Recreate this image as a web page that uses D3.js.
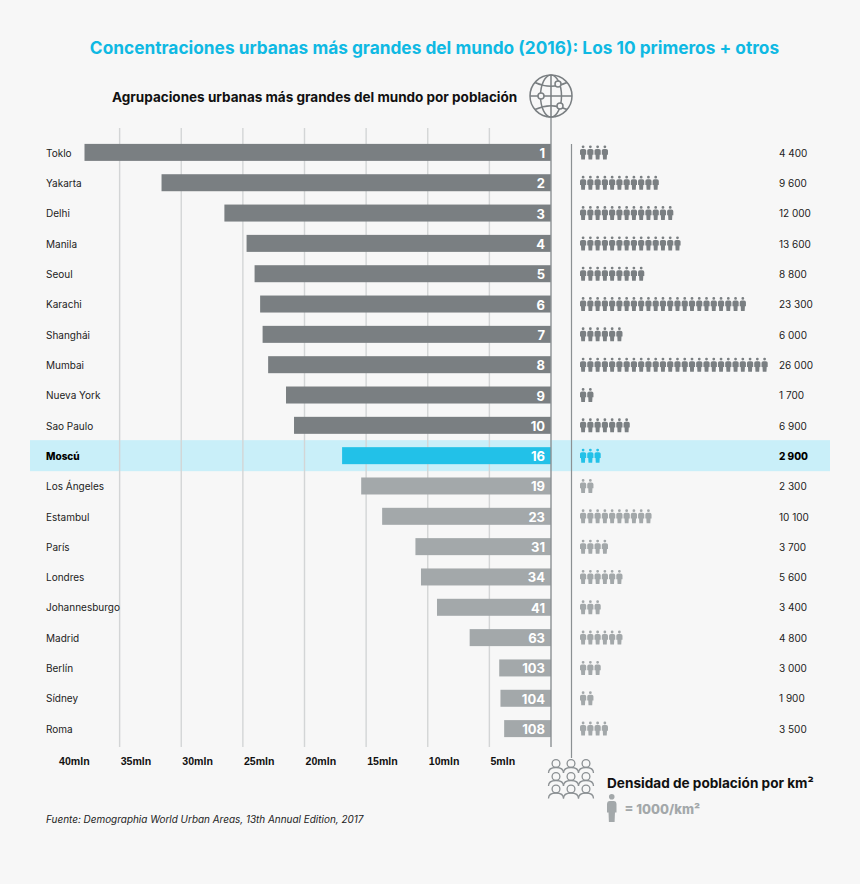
<!DOCTYPE html>
<html>
<head>
<meta charset="utf-8">
<script src="https://cdn.jsdelivr.net/npm/d3@7"></script>
<style>
  html, body { margin: 0; background: #f7f7f7; }
  svg { display: block; font-family: Inter, "Noto Sans", sans-serif; }
</style>
</head>
<body>
<svg id="chart" width="860" height="884"></svg>
<script>
const cities = ["Toklo", "Yakarta", "Delhi", "Manila", "Seoul", "Karachi", "Shanghái", "Mumbai", "Nueva York", "Sao Paulo",
  "Moscú", "Los Ángeles", "Estambul", "París", "Londres", "Johannesburgo", "Madrid", "Berlín", "Sídney", "Roma"];
const population = [37.85, 31.6, 26.5, 24.7, 24.05, 23.6, 23.4, 22.95, 21.5, 20.85,
  16.95, 15.4, 13.7, 11.0, 10.55, 9.25, 6.6, 4.2, 4.1, 3.8];
const ranks = [1, 2, 3, 4, 5, 6, 7, 8, 9, 10, 16, 19, 23, 31, 34, 41, 63, 103, 104, 108];
const density = [4400, 9600, 12000, 13600, 8800, 23300, 6000, 26000, 1700, 6900,
  2900, 2300, 10100, 3700, 5600, 3400, 4800, 3000, 1900, 3500];
const iconCounts = [4, 11, 13, 14, 9, 23, 6, 26, 2, 7, 3, 2, 10, 4, 6, 3, 6, 3, 2, 4];
const xTicks = [40, 35, 30, 25, 20, 15, 10, 5];

const dark = "#7a7f82", light = "#a3a8aa", blue = "#22c1e8", axisGrey = "#8b9093";
const highlight = "Moscú";

const rows = cities.map((c, i) => ({ city: c, pop: population[i], rank: ranks[i], dens: density[i], n: iconCounts[i], i }));
const colorOf = d => d.city === highlight ? blue : d.i < 10 ? dark : light;

const svg = d3.select("#chart");
const x = d3.scaleLinear().domain([0, 40]).range([551, 58]);
const y = d3.scalePoint().domain(cities).range([152.4, 728.6]);
const iconX = d3.scaleLinear().domain([0, 25]).range([580, 761.5]);
const fmt = d3.formatLocale({ decimal: ",", thousands: " ", grouping: [3], currency: ["", ""] }).format(",");

// titulos
svg.append("text").attr("x", 434.5).attr("y", 54).attr("text-anchor", "middle")
  .attr("font-size", 17.3).attr("font-weight", 700).attr("fill", "#0fb9e3")
  .text("Concentraciones urbanas más grandes del mundo (2016): Los 10 primeros + otros");
svg.append("text").attr("x", 112).attr("y", 102)
  .attr("font-size", 13.53).attr("font-weight", 700).attr("fill", "#111")
  .text("Agrupaciones urbanas más grandes del mundo por población");

// banda resaltada
svg.append("rect").attr("x", 30).attr("width", 800)
  .attr("y", y(highlight) - 15.5).attr("height", 31).attr("fill", "#c9eff9");

// rejilla
svg.append("g").selectAll("line").data(xTicks.filter(t => t < 40)).join("line")
  .attr("x1", d => x(d)).attr("x2", d => x(d))
  .attr("y1", 128).attr("y2", 747)
  .attr("stroke", "#d3d5d6").attr("stroke-width", 1.4);

// eje inferior
const axis = svg.append("g").attr("transform", "translate(0,752)")
  .call(d3.axisBottom(x).tickValues(xTicks).tickSize(0).tickFormat(d => d + "mln"));
axis.select(".domain").remove();
axis.selectAll("text").attr("text-anchor", "start").attr("dx", 0.5).attr("dy", "0.95em")
  .attr("font-family", "inherit").attr("font-size", 10.6).attr("font-weight", 800).attr("fill", "#111");

// barras
const row = svg.append("g").selectAll("g").data(rows).join("g");
row.append("rect")
  .attr("x", d => x(d.pop)).attr("width", d => x(0) - x(d.pop))
  .attr("y", d => y(d.city) - 8.5).attr("height", 17)
  .attr("fill", colorOf);
row.append("text")
  .attr("x", 545).attr("y", d => y(d.city) + 5.5).attr("text-anchor", "end")
  .attr("font-size", 13).attr("font-weight", 700).attr("fill", "#fff")
  .text(d => d.rank);
row.append("text")
  .attr("x", 46).attr("y", d => y(d.city) + 4.2)
  .attr("font-size", 10)
  .attr("font-weight", d => d.city === highlight ? 800 : 400)
  .attr("fill", d => d.city === highlight ? "#000" : "#222")
  .text(d => d.city);
row.append("text")
  .attr("x", 779).attr("y", d => y(d.city) + 4.2)
  .attr("font-size", 10).attr("font-weight", d => d.city === highlight ? 800 : 400)
  .attr("fill", d => d.city === highlight ? "#000" : "#222")
  .text(d => fmt(d.dens));

// figura de persona, w = ancho, h = altura
function personPath(w, h) {
  const r = h * 0.1, cx = w / 2, top = h * 0.25, arm = h * 0.66, leg = w * 0.2, p = d3.path();
  p.moveTo(cx + r, r); p.arc(cx, r, r, 0, 2 * Math.PI);
  p.moveTo(w * 0.3, top);
  p.lineTo(w * 0.7, top);
  p.quadraticCurveTo(w, top, w, top + h * 0.12);
  p.lineTo(w, arm);
  p.lineTo(w - leg * 0.8, arm);
  p.lineTo(w - leg, h);
  p.lineTo(leg, h);
  p.lineTo(leg * 0.8, arm);
  p.lineTo(0, arm);
  p.lineTo(0, top + h * 0.12);
  p.quadraticCurveTo(0, top, w * 0.3, top);
  p.closePath();
  return p.toString();
}
const smallPerson = personPath(6.2, 14);
row.selectAll("path").data(d => d3.range(d.n).map(k => ({ k, d }))).join("path")
  .attr("d", smallPerson)
  .attr("transform", e => `translate(${iconX(e.k)},${y(e.d.city) - 7})`)
  .attr("fill", e => colorOf(e.d));

// ejes verticales
svg.append("line").attr("x1", 551).attr("x2", 551).attr("y1", 117).attr("y2", 747)
  .attr("stroke", axisGrey).attr("stroke-width", 1.4);
svg.append("line").attr("x1", 571.5).attr("x2", 571.5).attr("y1", 144).attr("y2", 758)
  .attr("stroke", axisGrey).attr("stroke-width", 1.2);

// globo
const globe = svg.append("g").attr("transform", "translate(551,96)")
  .attr("fill", "none").attr("stroke", dark).attr("stroke-width", 1.5);
globe.append("circle").attr("r", 21);
globe.append("line").attr("y1", -21).attr("y2", 21);
globe.append("line").attr("x1", -21).attr("x2", 21);
globe.append("ellipse").attr("rx", 10.5).attr("ry", 21);
globe.append("path").attr("d", "M-16,-13.5Q0,-6 16,-13.5");
globe.append("path").attr("d", "M-16,13.5Q0,6 16,13.5");
globe.selectAll("circle.city").data([[7, -12], [-10, 0], [9, 10]]).join("circle")
  .attr("class", "city").attr("cx", d => d[0]).attr("cy", d => d[1]).attr("r", 3)
  .attr("fill", "#f7f7f7");

// grupo de personas
const crowd = svg.append("g").attr("fill", "none").attr("stroke", axisGrey).attr("stroke-width", 1.3);
[763.5, 776.5, 789].forEach(cy => [556, 571, 586].forEach(cx => {
  crowd.append("circle").attr("cx", cx).attr("cy", cy).attr("r", 3.9);
  crowd.append("path").attr("d", `M${cx - 7.5},${cy + 9.5}C${cx - 7.5},${cy + 4.5} ${cx - 3},${cy + 4} ${cx},${cy + 4}C${cx + 3},${cy + 4} ${cx + 7.5},${cy + 4.5} ${cx + 7.5},${cy + 9.5}`);
}));

// leyenda
svg.append("text").attr("x", 607).attr("y", 788)
  .attr("font-size", 13.6).attr("font-weight", 700).attr("fill", "#111")
  .text("Densidad de población por km²");
svg.append("path").attr("d", personPath(9.5, 28)).attr("transform", "translate(607,794)").attr("fill", light);
svg.append("text").attr("x", 624.5).attr("y", 814)
  .attr("font-size", 13).attr("font-weight", 800).attr("fill", light)
  .text("= 1000/km²");

// fuente
svg.append("text").attr("x", 46).attr("y", 823)
  .attr("font-size", 9.95).attr("font-style", "italic").attr("fill", "#222")
  .text("Fuente: Demographia World Urban Areas, 13th Annual Edition, 2017");
</script>
</body>
</html>
